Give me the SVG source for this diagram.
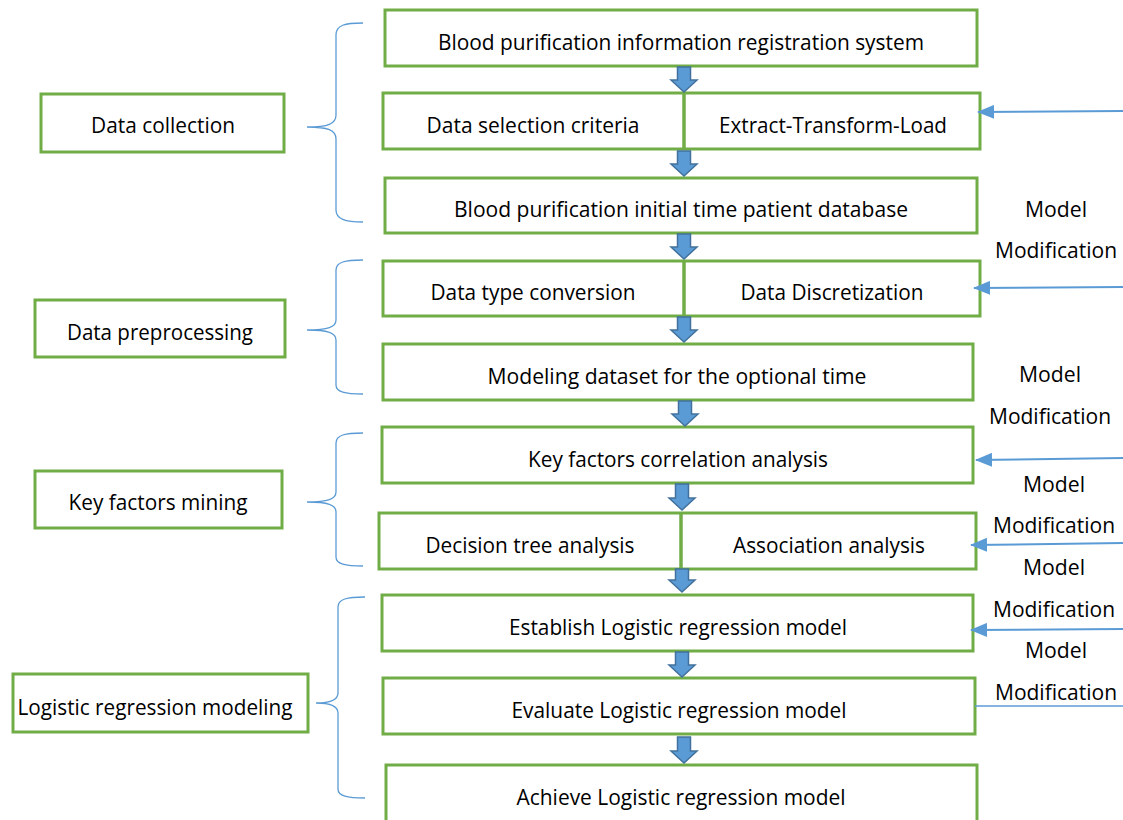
<svg xmlns="http://www.w3.org/2000/svg" width="1123" height="820" viewBox="0 0 1123 820">
<style>
.box{fill:#fff;stroke:#70ad47;stroke-width:3}
.div{stroke:#70ad47;stroke-width:3.5}
.t{font-family:"Open Sans","Liberation Sans",sans-serif;font-size:21.5px;fill:#000;text-anchor:middle}
.br{fill:none;stroke:#5b9bd5;stroke-width:1.3}
.ba{fill:#5b9bd5;stroke:#41719c;stroke-width:1.5}
.fb{fill:none;stroke:#5b9bd5;stroke-width:2}
</style>
<defs>
<marker id="ah" markerWidth="17" markerHeight="14" refX="16" refY="7" orient="auto" markerUnits="userSpaceOnUse">
<path d="M0,0 L17,7 L0,14 Z" fill="#5b9bd5"/>
</marker>
</defs>
<rect width="1123" height="820" fill="#fff"/>

<g id="braces">
<path class="br" d="M363,23 C345,23 336,25 336,35 L336,115 C336,124 328,127 307,127 C328,127 336,130 336,139 L336,210 C336,219 345,222 363,222"/>
<path class="br" d="M363,260 C345,260 336,262 336,270 L336,320 C336,327 328,330 307,330 C328,330 336,333 336,340 L336,385 C336,392 345,394 363,394"/>
<path class="br" d="M363,433 C345,433 336,435 336,443 L336,492 C336,499 328,502 307,502 C328,502 336,505 336,512 L336,557 C336,564 345,566 363,566"/>
<path class="br" d="M365,597 C347,597 338,599 338,607 L338,693 C338,700 330,703 316,703 C330,703 338,706 338,713 L338,789 C338,796 347,798 365,798"/>
</g>

<g id="left-data-collection"><rect class="box" x="41" y="94" width="243" height="58"/><text class="t" x="163" y="133" textLength="144" lengthAdjust="spacingAndGlyphs">Data collection</text></g>
<g id="left-data-preprocessing"><rect class="box" x="35" y="300" width="250" height="57"/><text class="t" x="160" y="340" textLength="186" lengthAdjust="spacingAndGlyphs">Data preprocessing</text></g>
<g id="left-key-factors"><rect class="box" x="35" y="471" width="247" height="57"/><text class="t" x="158" y="510" textLength="179" lengthAdjust="spacingAndGlyphs">Key factors mining</text></g>
<g id="left-logistic"><rect class="box" x="13" y="674" width="295" height="58"/><text class="t" x="155" y="715" textLength="275" lengthAdjust="spacingAndGlyphs">Logistic regression modeling</text></g>

<g id="n1"><rect class="box" x="385" y="10" width="592" height="56"/><text class="t" x="681" y="50" textLength="486" lengthAdjust="spacingAndGlyphs">Blood purification information registration system</text></g>
<g id="n2"><rect class="box" x="383" y="93" width="597" height="56"/><line class="div" x1="684" y1="93" x2="684" y2="149"/><text class="t" x="533" y="133" textLength="213" lengthAdjust="spacingAndGlyphs">Data selection criteria</text><text class="t" x="833" y="133" textLength="228" lengthAdjust="spacingAndGlyphs">Extract-Transform-Load</text></g>
<g id="n3"><rect class="box" x="385" y="178" width="592" height="55"/><text class="t" x="681" y="217" textLength="454" lengthAdjust="spacingAndGlyphs">Blood purification initial time patient database</text></g>
<g id="n4"><rect class="box" x="383" y="261" width="597" height="55"/><line class="div" x1="684" y1="261" x2="684" y2="316"/><text class="t" x="533" y="300" textLength="205" lengthAdjust="spacingAndGlyphs">Data type conversion</text><text class="t" x="832" y="300" textLength="183" lengthAdjust="spacingAndGlyphs">Data Discretization</text></g>
<g id="n5"><rect class="box" x="383" y="344" width="590" height="56"/><text class="t" x="677" y="384" textLength="379" lengthAdjust="spacingAndGlyphs">Modeling dataset for the optional time</text></g>
<g id="n6"><rect class="box" x="382" y="427" width="591" height="56"/><text class="t" x="678" y="467" textLength="300" lengthAdjust="spacingAndGlyphs">Key factors correlation analysis</text></g>
<g id="n7"><rect class="box" x="379" y="513" width="597" height="56"/><line class="div" x1="681" y1="513" x2="681" y2="569"/><text class="t" x="530" y="553" textLength="209" lengthAdjust="spacingAndGlyphs">Decision tree analysis</text><text class="t" x="829" y="553" textLength="192" lengthAdjust="spacingAndGlyphs">Association analysis</text></g>
<g id="n8"><rect class="box" x="382" y="595" width="591" height="56"/><text class="t" x="678" y="635" textLength="338" lengthAdjust="spacingAndGlyphs">Establish Logistic regression model</text></g>
<g id="n9"><rect class="box" x="383" y="678" width="592" height="56"/><text class="t" x="679" y="718" textLength="335" lengthAdjust="spacingAndGlyphs">Evaluate Logistic regression model</text></g>
<g id="n10"><rect class="box" x="386" y="765" width="591" height="58"/><text class="t" x="681" y="805" textLength="329" lengthAdjust="spacingAndGlyphs">Achieve Logistic regression model</text></g>

<g id="labels">
<text class="t" x="1056" y="217" textLength="62" lengthAdjust="spacingAndGlyphs">Model</text>
<text class="t" x="1056" y="258" textLength="122" lengthAdjust="spacingAndGlyphs">Modification</text>
<text class="t" x="1050" y="382" textLength="62" lengthAdjust="spacingAndGlyphs">Model</text>
<text class="t" x="1050" y="424" textLength="122" lengthAdjust="spacingAndGlyphs">Modification</text>
<text class="t" x="1054" y="492" textLength="62" lengthAdjust="spacingAndGlyphs">Model</text>
<text class="t" x="1054" y="533" textLength="122" lengthAdjust="spacingAndGlyphs">Modification</text>
<text class="t" x="1054" y="575" textLength="62" lengthAdjust="spacingAndGlyphs">Model</text>
<text class="t" x="1054" y="617" textLength="122" lengthAdjust="spacingAndGlyphs">Modification</text>
<text class="t" x="1056" y="658" textLength="62" lengthAdjust="spacingAndGlyphs">Model</text>
<text class="t" x="1056" y="700" textLength="122" lengthAdjust="spacingAndGlyphs">Modification</text>
</g>

<g id="connectors">
<path class="ba" d="M677.5,67 H690.5 V80 H697 L684,92 L671,80 H677.5 Z"/>
<path class="ba" d="M677.5,151 H690.5 V164 H697 L684,176 L671,164 H677.5 Z"/>
<path class="ba" d="M677.5,234 H690.5 V247 H697 L684,259 L671,247 H677.5 Z"/>
<path class="ba" d="M677.5,317 H690.5 V330 H697 L684,342 L671,330 H677.5 Z"/>
<path class="ba" d="M678.5,401 H691.5 V414 H698 L685,426 L672,414 H678.5 Z"/>
<path class="ba" d="M675.5,484 H688.5 V498 H695 L682,510 L669,498 H675.5 Z"/>
<path class="ba" d="M675.5,569 H688.5 V580 H695 L682,592 L669,580 H675.5 Z"/>
<path class="ba" d="M675.5,652 H688.5 V665 H695 L682,677 L669,665 H675.5 Z"/>
<path class="ba" d="M677.5,737 H690.5 V751 H697 L684,763 L671,751 H677.5 Z"/>

<line class="fb" x1="1123" y1="111" x2="978" y2="112" marker-end="url(#ah)"/>
<line class="fb" x1="1123" y1="287" x2="974" y2="288" marker-end="url(#ah)"/>
<line class="fb" x1="1123" y1="458" x2="976" y2="460" marker-end="url(#ah)"/>
<line class="fb" x1="1123" y1="543" x2="971" y2="545" marker-end="url(#ah)"/>
<line class="fb" x1="1123" y1="629" x2="971" y2="630" marker-end="url(#ah)"/>
<line class="fb" x1="975" y1="706" x2="1123" y2="706" style="stroke-width:1.3"/>
</g>
</svg>
